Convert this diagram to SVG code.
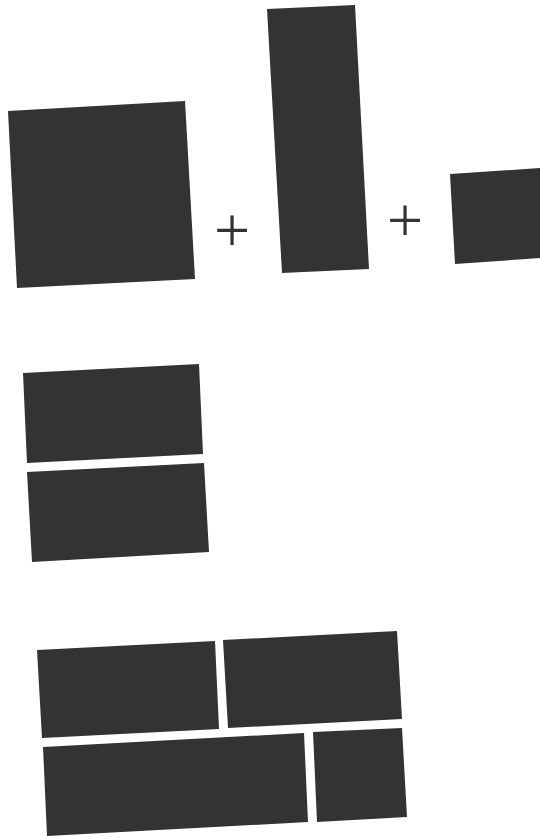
<svg xmlns="http://www.w3.org/2000/svg" width="540" height="837" viewBox="0 0 540 837">
<style>
.blk{fill:#333333}
.op{font-family:"Liberation Serif","Times New Roman",serif;font-size:64px;fill:#333333;text-anchor:middle}
</style>
<rect width="540" height="837" fill="#ffffff"/>
<g id="square-large"><polygon class="blk" points="8,111 185,101 195,279 17,288"/></g>
<g id="plus-1"><text class="op" x="232" y="252">+</text></g>
<g id="rect-tall"><polygon class="blk" points="267,9 355,5 369,269 282,273"/></g>
<g id="plus-2"><text class="op" x="405" y="242">+</text></g>
<g id="square-small"><polygon class="blk" points="450,174 541,168 541,258 455,264"/></g>
<g id="stack-top"><polygon class="blk" points="23,373 199,364 203,454 27,463"/></g>
<g id="stack-bottom"><polygon class="blk" points="27,472 204,463 209,552 32,562"/></g>
<g id="grid-a"><polygon class="blk" points="37,650 215,641 219,729 42,738"/></g>
<g id="grid-b"><polygon class="blk" points="223,640 397,631 402,719 228,728"/></g>
<g id="grid-c"><polygon class="blk" points="43,747 304,733 308,822 47,836"/></g>
<g id="grid-d"><polygon class="blk" points="313,732 402,728 407,817 317,822"/></g>
<g id="connectors"></g>
</svg>
